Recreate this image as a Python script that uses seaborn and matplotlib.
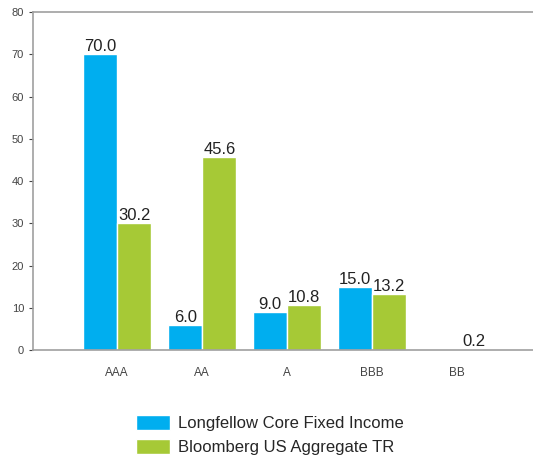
import numpy as np
import pandas as pd
import matplotlib
matplotlib.use("Agg")
import matplotlib.pyplot as plt
import seaborn as sns

ratings = ["AAA", "AA", "A", "BBB", "BB"]
longfellow = [70.0, 6.0, 9.0, 15.0, np.nan]
bloomberg = [30.2, 45.6, 10.8, 13.2, 0.2]
series_names = ["Longfellow Core Fixed Income", "Bloomberg US Aggregate TR"]
colors = ["#00AEEF", "#A6C936"]

df = pd.DataFrame({
    "Rating": ratings * 2,
    "Value": longfellow + bloomberg,
    "Series": [series_names[0]] * 5 + [series_names[1]] * 5,
})

sns.set_style("white")
plt.rcParams["font.family"] = ["Liberation Sans", "DejaVu Sans"]

fig = plt.figure(figsize=(5.33, 4.65), dpi=100)
ax = fig.add_axes([0.062, 0.247, 0.938, 0.727])

sns.barplot(data=df, x="Rating", y="Value", hue="Series", order=ratings,
            hue_order=series_names, palette=colors, width=0.8,
            saturation=1, ax=ax, legend=True)

for cont in ax.containers:
    labels = ["" if np.isnan(v) else f"{v:.1f}" for v in cont.datavalues]
    ax.bar_label(cont, labels=labels, padding=0, fontsize=12, color="#222222")

ax.set_xlim(-0.99, 4.89)
ax.set_ylim(0, 80)
ax.set_yticks(range(0, 81, 10))
ax.set_xlabel("")
ax.set_ylabel("")
ax.tick_params(axis="y", labelsize=8, colors="#444444", length=3, width=0.8,
               direction="out", left=True)
ax.tick_params(axis="x", labelsize=8.5, colors="#444444", length=0, pad=12)
for s in ["top", "left", "bottom"]:
    ax.spines[s].set_color("#a0a0a0")
    ax.spines[s].set_linewidth(1.2)
ax.spines["right"].set_visible(False)

handles, labs = ax.get_legend_handles_labels()
ax.get_legend().remove()
fig.legend(handles, labs, loc="upper left", bbox_to_anchor=(0.255, 0.107),
           frameon=False, fontsize=12, handlelength=2.05, handleheight=1.0,
           handletextpad=0.5, labelspacing=0.45, borderaxespad=0,
           borderpad=0)

fig.savefig("out.png", dpi=100)
